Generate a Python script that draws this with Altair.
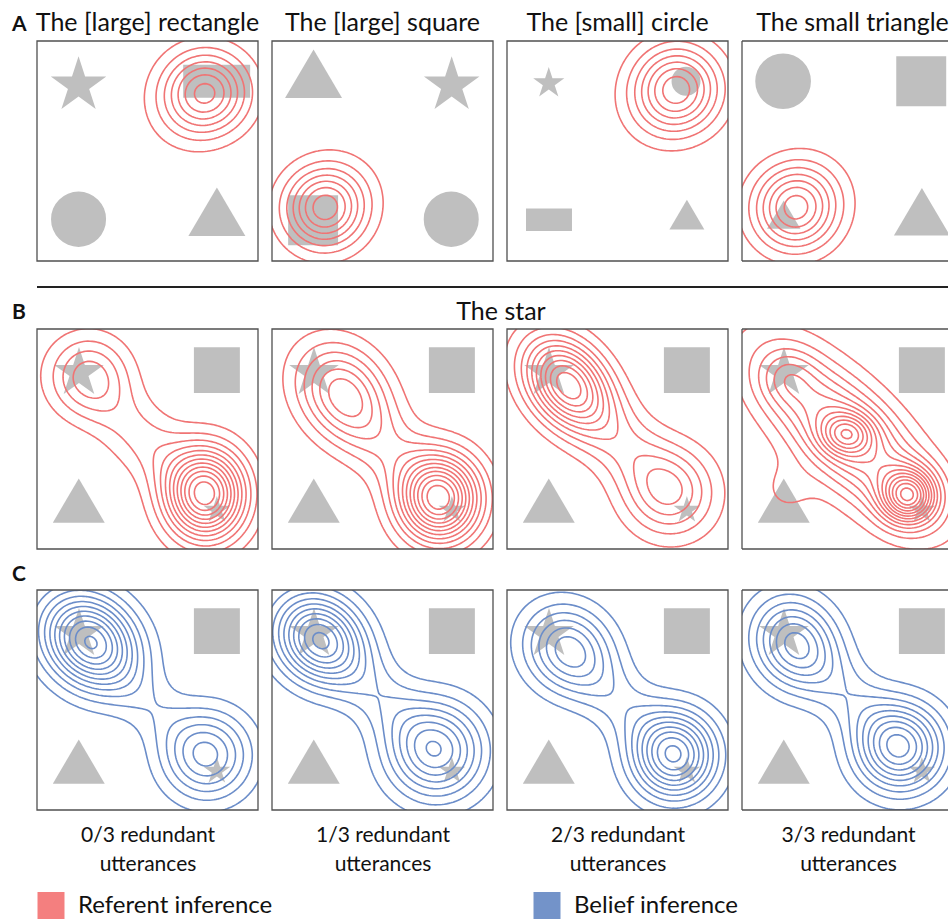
import numpy as np
import pandas as pd
import altair as alt

# ------------------------------------------------------------------ text
TITLES_A = ["The [large] rectangle", "The [large] square", "The [small] circle", "The small triangle"]
TITLE_B = "The star"
LETTERS = ["A", "B", "C"]
COL_LABELS = [["0/3 redundant", "utterances"], ["1/3 redundant", "utterances"],
              ["2/3 redundant", "utterances"], ["3/3 redundant", "utterances"]]
LEGEND_LABELS = ["Referent inference", "Belief inference"]

# ------------------------------------------------------------------ objects in each scene
# panel units: x 0-100 left->right, y 0-100 bottom->top; W = object width (star: outer diameter)
OBJ_PANEL = ["A1"] * 4 + ["A2"] * 4 + ["A3"] * 4 + ["A4"] * 4
OBJ_KIND = ["star", "rect", "circle", "triangle",
            "triangle", "star", "square", "circle",
            "star", "circle", "rect", "triangle",
            "circle", "square", "triangle", "triangle"]
OBJ_X = [18.8, 81.3, 18.8, 81.4,
         18.8, 81.3, 18.6, 81.1,
         18.9, 81.0, 19.0, 81.4,
         18.6, 81.1, 18.9, 81.4]
OBJ_Y = [79.8, 81.7, 19.0, 22.4,
         85.1, 79.8, 18.5, 19.0,
         80.8, 81.7, 18.7, 21.1,
         81.7, 81.7, 21.1, 22.4]
OBJ_W = [26.4, 30.3, 24.9, 25.8,
         25.8, 26.4, 22.6, 24.9,
         14.8, 13.1, 20.8, 15.8,
         25.2, 22.6, 15.1, 25.3]

# scene shared by rows B and C
STAR_SCENE_KIND = ["star", "square", "triangle", "star"]
STAR_SCENE_X = [19.0, 81.4, 18.9, 81.4]
STAR_SCENE_Y = [80.0, 81.3, 22.0, 17.7]
STAR_SCENE_W = [23.6, 20.8, 23.5, 12.7]

# ------------------------------------------------------------------ posterior densities (mixtures)
MIX_PANEL = ["A1", "A1", "A2", "A2", "A3", "A3", "A4", "A4",
             "B1", "B1", "B1", "B2", "B2", "B2", "B3", "B3", "B3",
             "B4", "B4", "B4", "B4", "B4",
             "C1", "C1", "C1", "C2", "C2", "C2", "C3", "C3", "C3", "C4", "C4", "C4"]
MIX_X = [76.5, 66.0, 23.5, 33.0, 77.2, 67.0, 23.8, 33.0,
         23.5, 76.2, 48.0, 32.1, 75.7, 50.0, 27.0, 73.4, 50.0,
         47.0, 47.5, 75.4, 20.0, 20.0,
         24.1, 76.9, 50.5, 21.4, 74.2, 48.0, 27.5, 75.7, 50.0, 23.8, 71.3, 48.0]
MIX_Y = [76.8, 66.0, 23.8, 33.0, 78.4, 68.0, 23.8, 33.0,
         78.6, 25.0, 50.0, 71.5, 23.0, 48.0, 75.6, 26.0, 50.0,
         52.0, 52.3, 24.2, 78.0, 27.0,
         76.5, 25.0, 48.0, 77.6, 27.0, 52.0, 73.2, 25.0, 50.0, 75.8, 28.4, 52.0]
MIX_SX = [13.2, 13.0, 12.5, 13.0, 13.3, 13.0, 12.9, 13.0,
          12.5, 12.2, 17.2, 14.0, 12.5, 18.7, 13.0, 14.0, 18.7,
          25.3, 8.0, 8.5, 9.0, 9.0,
          14.5, 13.6, 15.5, 13.6, 15.0, 17.1, 13.5, 13.0, 17.1, 13.0, 13.5, 17.1]
MIX_SY = [12.7, 13.0, 12.5, 13.0, 13.3, 13.0, 12.9, 13.0,
          12.5, 14.0, 17.2, 15.0, 13.5, 18.7, 14.0, 14.0, 18.7,
          25.3, 6.5, 8.5, 9.0, 9.0,
          14.5, 13.6, 15.5, 13.6, 15.0, 17.1, 13.5, 13.5, 17.1, 14.0, 13.5, 17.1]
MIX_RHO = [0.0, 0.0, 0.0, 0.0, 0.0, 0.0, 0.0, 0.0,
           0.0, 0.0, -0.63, -0.2, 0.0, -0.65, -0.3, 0.0, -0.65,
           -0.695, 0.0, 0.0, 0.0, 0.0,
           -0.2, 0.0, -0.66, -0.15, 0.0, -0.66, -0.1, 0.0, -0.66, -0.1, 0.0, -0.66]
MIX_H = [7.0, 0.8, 7.2, 0.8, 7.3, 0.8, 7.1, 0.8,
         4.3, 12.3, 2.3, 5.75, 12.2, 2.3, 9.8, 4.6, 2.8,
         7.3, 5.0, 10.0, 2.2, 1.1,
         11.0, 6.2, 1.34, 9.8, 7.6, 2.2, 6.0, 9.8, 2.1, 6.9, 8.9, 2.2]

# ------------------------------------------------------------------ style / layout
FONT = "Lato"
INK = "#111111"
RED = "#F07474"
BLUE = "#6B8DC9"
LEGEND_COLORS = ["#F47F7F", "#7393C9"]
GRAY = "#BFBFBF"
FRAME = "#505050"
PANEL_W, PANEL_H, LAST_W = 221, 220, 206
PX = PANEL_W / 100.0

SHAPE_PATHS = {
    "star": "M" + "L".join(
        "%.4f,%.4f" % ((1.0 if k % 2 == 0 else 0.382) * np.cos(np.radians(-90 + 36 * k)),
                       (1.0 if k % 2 == 0 else 0.382) * np.sin(np.radians(-90 + 36 * k)))
        for k in range(10)) + "Z",
    "square": "M-1,-1L1,-1L1,1L-1,1Z",
    "rect": "M-1,-0.49L1,-0.49L1,0.49L-1,0.49Z",
    "triangle": "M0,-0.85L1,0.85L-1,0.85Z",
    "circle": "circle",
}

# ------------------------------------------------------------------ contouring
GRID = np.arange(-3.0, 103.01, 1.0)
TABLE = {1: [("L", "B")], 2: [("B", "R")], 3: [("L", "R")], 4: [("R", "T")], 6: [("B", "T")],
         7: [("L", "T")], 8: [("L", "T")], 9: [("B", "T")], 11: [("R", "T")], 12: [("L", "R")],
         13: [("B", "R")], 14: [("L", "B")]}


def density(pid):
    X, Y = np.meshgrid(GRID, GRID)
    Z = np.zeros_like(X)
    for k, p in enumerate(MIX_PANEL):
        if p != pid:
            continue
        dx = (X - MIX_X[k]) / MIX_SX[k]
        dy = (Y - MIX_Y[k]) / MIX_SY[k]
        r = MIX_RHO[k]
        q = (dx * dx - 2 * r * dx * dy + dy * dy) / (1 - r * r)
        Z += MIX_H[k] * np.exp(-0.5 * q)
    return Z


def edge_key(side, i, j):
    if side == "B":
        return ("h", i, j)
    if side == "T":
        return ("h", i + 1, j)
    if side == "L":
        return ("v", i, j)
    return ("v", i, j + 1)


def edge_point(key, Z, lev):
    kind, i, j = key
    if kind == "h":
        a, b = Z[i, j], Z[i, j + 1]
        t = (lev - a) / (b - a)
        return GRID[j] + t * (GRID[j + 1] - GRID[j]), GRID[i]
    a, b = Z[i, j], Z[i + 1, j]
    t = (lev - a) / (b - a)
    return GRID[j], GRID[i] + t * (GRID[i + 1] - GRID[i])


def contour_paths(Z, lev):
    above = Z > lev
    c = (above[:-1, :-1].astype(int) + 2 * above[:-1, 1:] + 4 * above[1:, 1:] + 8 * above[1:, :-1])
    segs = []
    for i, j in np.argwhere((c > 0) & (c < 15)):
        cs = int(c[i, j])
        if cs in (5, 10):
            centre = 0.25 * (Z[i, j] + Z[i, j + 1] + Z[i + 1, j] + Z[i + 1, j + 1]) > lev
            if cs == 5:
                pairs = [("L", "T"), ("B", "R")] if centre else [("L", "B"), ("R", "T")]
            else:
                pairs = [("L", "B"), ("R", "T")] if centre else [("B", "R"), ("L", "T")]
        else:
            pairs = TABLE[cs]
        for s1, s2 in pairs:
            segs.append((edge_key(s1, i, j), edge_key(s2, i, j)))
    adj = {}
    for n, (a, b) in enumerate(segs):
        adj.setdefault(a, []).append(n)
        adj.setdefault(b, []).append(n)
    used = [False] * len(segs)

    def walk(start):
        out, cur = [], start
        while True:
            nxt = next((m for m in adj[cur] if not used[m]), None)
            if nxt is None:
                return out
            used[nxt] = True
            a, b = segs[nxt]
            cur = b if a == cur else a
            out.append(cur)

    paths = []
    for n in range(len(segs)):
        if used[n]:
            continue
        used[n] = True
        a, b = segs[n]
        fwd = walk(b)
        back = walk(a)
        keys = back[::-1] + [a, b] + fwd
        paths.append([edge_point(k, Z, lev) for k in keys])
    return paths


def contour_frame(pid):
    Z = density(pid)
    rows = []
    for lev in range(1, int(np.floor(Z.max())) + 1):
        for pi, pts in enumerate(contour_paths(Z, float(lev))):
            name = "%s_%d_%d" % (pid, lev, pi)
            for n, (x, y) in enumerate(pts):
                rows.append((name, n, round(float(x), 2), round(float(y), 2)))
    return pd.DataFrame(rows, columns=["path", "i", "x", "y"])


def object_frame(pid):
    if pid[0] == "A":
        idx = [k for k, p in enumerate(OBJ_PANEL) if p == pid]
        kinds = [OBJ_KIND[k] for k in idx]
        xs = [OBJ_X[k] for k in idx]
        ys = [OBJ_Y[k] for k in idx]
        ws = [OBJ_W[k] for k in idx]
    else:
        kinds, xs, ys, ws = STAR_SCENE_KIND, STAR_SCENE_X, STAR_SCENE_Y, STAR_SCENE_W
    return pd.DataFrame({
        "kind": kinds, "x": xs, "y": ys,
        "path": [SHAPE_PATHS[k] for k in kinds],
        "area": [(w * PX) ** 2 for w in ws],
    })


ONE = alt.Data(values=[{"t": ""}])


def text_layer(text, x, y, size, weight="normal", align="center"):
    return alt.Chart(alt.Data(values=[{"t": text}])).mark_text(
        font=FONT, fontSize=size, fontWeight=weight, align=align, baseline="alphabetic", color=INK
    ).encode(x=alt.value(x), y=alt.value(y), text="t:N")


def anchor(x1, y1, x2, y2):
    return alt.Chart(ONE).mark_rule(strokeWidth=0, opacity=0).encode(
        x=alt.value(x1), y=alt.value(y1), x2=alt.value(x2), y2=alt.value(y2))


def panel(pid):
    row, col = pid[0], int(pid[1]) - 1
    last = col == 3
    w = LAST_W if last else PANEL_W
    if row == "C":
        axis = alt.Axis(title=COL_LABELS[col], domain=False, ticks=False, labels=False, grid=False,
                        titleFont=FONT, titleFontSize=21, titleFontWeight="normal", titleColor=INK,
                        titlePadding=14, titleLineHeight=29, titleX=106 if last else 110.5)
    else:
        axis = None
    xe = alt.X("x:Q", scale=alt.Scale(domain=[0, 100 * w / PANEL_W], nice=False, zero=False), axis=axis)
    ye = alt.Y("y:Q", scale=alt.Scale(domain=[0, 100], nice=False, zero=False), axis=None)

    shapes = alt.Chart(object_frame(pid)).mark_point(
        filled=True, opacity=1, color=GRAY, strokeWidth=0, clip=last
    ).encode(x=xe, y=ye, shape=alt.Shape("path:N", scale=None), size=alt.Size("area:Q", scale=None))

    lines = alt.Chart(contour_frame(pid)).mark_line(
        clip=True, strokeWidth=1.6, color=BLUE if row == "C" else RED, strokeJoin="round"
    ).encode(x=xe, y=ye, detail="path:N", order="i:Q")

    layers = [shapes, lines]
    if last:
        for (a, b, c, d) in [(0, 0, w, 0), (0, PANEL_H, w, PANEL_H), (0, 0, 0, PANEL_H)]:
            layers.append(alt.Chart(ONE).mark_rule(stroke=FRAME, strokeWidth=1.3).encode(
                x=alt.value(a), y=alt.value(b), x2=alt.value(c), y2=alt.value(d)))
    else:
        layers.append(alt.Chart(ONE).mark_rect(fillOpacity=0, stroke=FRAME, strokeWidth=1.3).encode(
            x=alt.value(0), x2=alt.value(w), y=alt.value(0), y2=alt.value(PANEL_H)))

    if row == "A":
        layers.append(text_layer(TITLES_A[col], 110.5, -10, 25))
    if pid == "A1":
        layers.append(text_layer(LETTERS[0], -25, -10.5, 21, "bold", "left"))
        layers.append(anchor(-37, -41, 227, 245))
    elif pid == "B1":
        layers.append(anchor(-6, 110, 227, 231))
    elif pid == "C1":
        layers.append(text_layer(LETTERS[2], -25, -9, 21, "bold", "left"))
        layers.append(anchor(-6, -30, 227, 302))
    else:
        layers.append(anchor(-6, 110, w if last else 227, 110))
    return alt.layer(*layers).properties(width=w, height=PANEL_H)


rows = [alt.hconcat(*[panel(r + str(c)) for c in range(1, 5)], spacing=2) for r in "ABC"]

separator = alt.layer(
    alt.Chart(ONE).mark_rule(stroke="#222222", strokeWidth=2).encode(
        x=alt.value(0), x2=alt.value(911), y=alt.value(0)),
    text_layer(TITLE_B, 464, 32.7, 25),
    text_layer(LETTERS[1], -25, 32, 21, "bold", "left"),
    anchor(0, 41, 0, 41),
).properties(width=913, height=1)

leg_df = pd.DataFrame({"label": LEGEND_LABELS, "color": LEGEND_COLORS})
leg_x = alt.X("label:N", scale=alt.Scale(domain=LEGEND_LABELS, range=[14, 510], padding=0), axis=None)
legend = alt.layer(
    alt.Chart(leg_df).mark_square(size=729, opacity=1).encode(
        x=leg_x, y=alt.value(13.5), color=alt.Color("color:N", scale=None)),
    alt.Chart(leg_df).mark_text(align="left", baseline="middle", dx=27, font=FONT, fontSize=24,
                                color=INK).encode(x=leg_x, y=alt.value(13.5), text="label:N"),
).properties(width=913, height=27)

chart = alt.vconcat(rows[0], separator, rows[1], rows[2], legend, spacing=0).properties(
    padding={"left": 0, "top": 0, "right": 0, "bottom": 0}
).configure_view(stroke="transparent", strokeWidth=0)

chart.save("out.html", embed_options={"renderer": "svg", "actions": False})
